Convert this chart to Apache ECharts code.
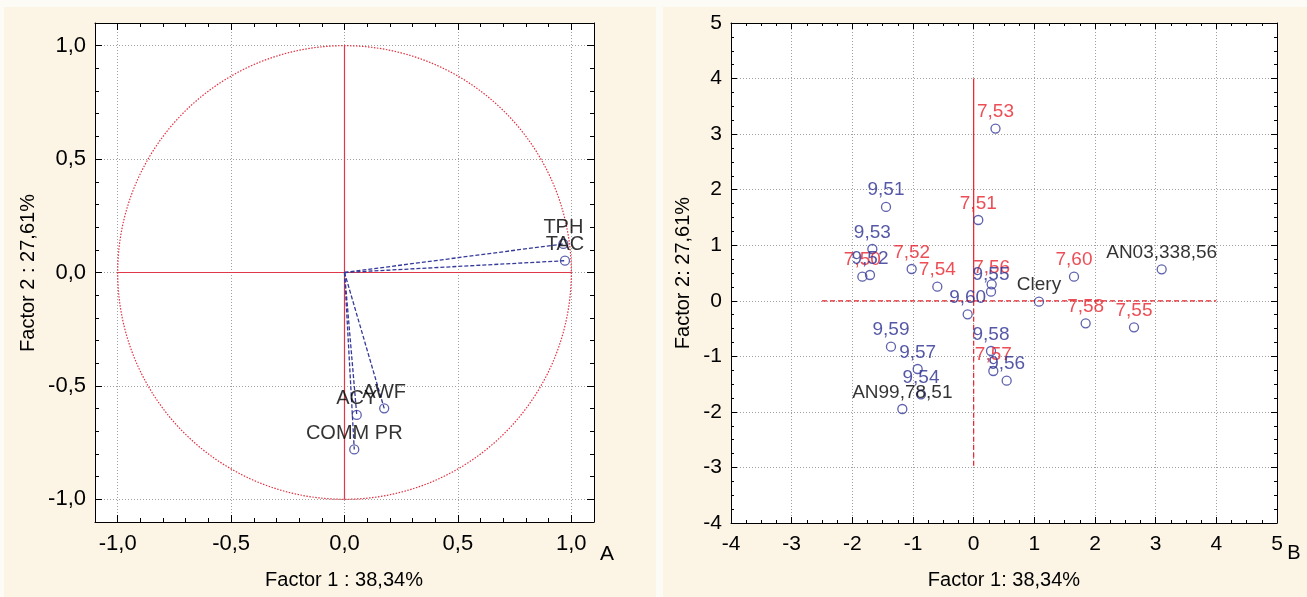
<!DOCTYPE html>
<html><head><meta charset="utf-8">
<script src="https://cdn.jsdelivr.net/npm/echarts@6/dist/echarts.min.js"></script>
<style>html,body{margin:0;padding:0;background:#fdfbf6}#c{width:1307px;height:597px}</style>
</head><body><div id="c"></div>
<script>
// ---- Panel A: loadings ----
const loadNames = ['TPH', 'TAC', 'AWF', 'ACY', 'COMM PR'];
const loadX = [0.965, 0.972, 0.175, 0.054, 0.043];
const loadY = [0.126, 0.052, -0.599, -0.628, -0.780];
const unitCircle = [[0, 0, 1]];
const leftRefH = [[-1, 0], [1, 0]];
const leftRefV = [[0, -1], [0, 1]];

// ---- Panel B: scores ----
const scoreNames = ['7,53','9,51','7,51','9,53','7,50','9,52','7,52','7,54','7,56','9,55','9,60','Clery','7,60','AN03,338,56','7,58','7,55','9,59','9,57','9,54','AN99,78,51','9,58','7,57','9,56'];
const scoreX = [0.36, -1.445, 0.076, -1.67, -1.835, -1.709, -1.022, -0.599, 0.297, 0.286, -0.099, 1.077, 1.654, 3.099, 1.846, 2.643, -1.363, -0.923, -0.868, -1.176, 0.286, 0.324, 0.544];
const scoreY = [3.10, 1.69, 1.454, 0.932, 0.434, 0.464, 0.572, 0.254, 0.297, 0.164, -0.243, -0.016, 0.434, 0.567, -0.405, -0.477, -0.826, -1.228, -1.683, -1.948, -0.904, -1.264, -1.438];
const scoreGroup = ['r','b','r','b','r','b','r','r','r','b','b','k','r','k','r','r','b','b','b','k','b','r','b'];
const rightRefH = [[-2.5, 0], [4, 0]];
const rightRefVUp = [[0, 0], [0, 4]];
const rightRefVDown = [[0, 0], [0, -3]];

const FONT = "'Liberation Sans', Arial, sans-serif";
const groupColor = {r: '#e8202a', b: '#2a2e90', k: '#000000'};
const markerColor = '#363a98';
const gridLine = {show: true, lineStyle: {color: '#a0a0a0', type: [1, 2], width: 1}};

function commaFmt(v) {
  const d = v * 2;
  if (Math.abs(d - Math.round(d)) > 1e-6 || Math.abs(v) > 1.0001) return '';
  let s = (Math.round(d) / 2).toFixed(1).replace('.', ',');
  if (s === '-0,0') s = '0,0';
  return s;
}

function axisA(type, pos, grid, withLabels, withSplit) {
  return {
    type: 'value', gridIndex: grid, position: pos, min: -1.1, max: 1.1,
    splitNumber: 4, minInterval: 0.5, maxInterval: 0.5,
    axisLine: {show: true, onZero: false, lineStyle: {color: '#000', width: 1}},
    axisTick: {show: true, inside: true, length: 7, lineStyle: {color: '#000'}},
    axisLabel: {show: withLabels, formatter: commaFmt, fontSize: 22, color: '#000', fontFamily: FONT,
      margin: type === 'x' ? 11 : 9},
    splitLine: withSplit ? gridLine : {show: false}
  };
}
function axisB(pos, grid) {
  return {
    type: 'value', gridIndex: grid, position: pos, min: -1.1, max: 1.1, interval: 0.1,
    axisLine: {show: false, onZero: false},
    axisTick: {show: true, inside: true, length: 4, lineStyle: {color: '#000'}},
    axisLabel: {show: false}, splitLine: {show: false}
  };
}
function axisR(type, pos, withLabels, withSplit) {
  return {
    type: 'value', gridIndex: 1, position: pos, min: -4, max: 5, interval: 1,
    axisLine: {show: true, onZero: false, lineStyle: {color: '#000', width: 1}},
    axisTick: {show: true, inside: true, length: 6, lineStyle: {color: '#000'}},
    minorTick: {show: true, splitNumber: 4, length: 3, lineStyle: {color: '#000'}},
    axisLabel: {show: withLabels, fontSize: 21, color: '#000', fontFamily: FONT,
      margin: type === 'x' ? 11 : 9},
    splitLine: withSplit ? gridLine : {show: false}
  };
}

const loadData = loadNames.map((n, i) => ({name: n, value: [loadX[i], loadY[i]]}));
const scoreData = scoreNames.map((n, i) => ({name: n, value: [scoreX[i], scoreY[i]],
  label: {color: groupColor[scoreGroup[i]]}}));

function refLine(data, xi, dashed, color) {
  return {type: 'line', xAxisIndex: xi, yAxisIndex: xi, data: data, symbol: 'none', silent: true,
    lineStyle: {color: color, width: 1.2, type: dashed ? [5, 3] : 'solid'}, z: 1, animation: false};
}

const option = {
  animation: false,
  backgroundColor: '#fdfbf6',
  grid: [
    {left: 95, top: 23, width: 499, height: 499},
    {left: 731, top: 23, width: 546, height: 500}
  ],
  xAxis: [
    axisA('x', 'bottom', 0, true, true),
    axisB('bottom', 0),
    axisA('x', 'top', 0, false, false),
    axisB('top', 0),
    axisR('x', 'bottom', true, true),
    axisR('x', 'top', false, false)
  ],
  yAxis: [
    axisA('y', 'left', 0, true, true),
    axisB('left', 0),
    axisA('y', 'right', 0, false, false),
    axisB('right', 0),
    axisR('y', 'left', true, true),
    axisR('y', 'right', false, false)
  ],
  graphic: [
    {type: 'rect', z: -10, silent: true, shape: {x: 4, y: 7, width: 652, height: 590}, style: {fill: '#fcf5e5'}},
    {type: 'rect', z: -10, silent: true, shape: {x: 663, y: 7, width: 644, height: 590}, style: {fill: '#fcf5e5'}},
    {type: 'rect', z: -9, silent: true, shape: {x: 95, y: 23, width: 499, height: 499}, style: {fill: '#ffffff'}},
    {type: 'rect', z: -9, silent: true, shape: {x: 731, y: 23, width: 546, height: 500}, style: {fill: '#ffffff'}},
    {type: 'text', x: 344, y: 580, silent: true, style: {text: 'Factor 1 : 38,34%', font: '20px ' + FONT, fill: '#000', align: 'center', verticalAlign: 'middle'}},
    {type: 'text', x: 1004, y: 580, silent: true, style: {text: 'Factor 1: 38,34%', font: '20px ' + FONT, fill: '#000', align: 'center', verticalAlign: 'middle'}},
    {type: 'text', x: 28, y: 273, rotation: Math.PI / 2, silent: true,
      style: {text: 'Factor 2 : 27,61%', font: '20px ' + FONT, fill: '#000', align: 'center', verticalAlign: 'middle'}},
    {type: 'text', x: 683, y: 273, rotation: Math.PI / 2, silent: true,
      style: {text: 'Factor 2: 27,61%', font: '20px ' + FONT, fill: '#000', align: 'center', verticalAlign: 'middle'}},
    {type: 'text', x: 607, y: 554, silent: true, style: {text: 'A', font: '21px ' + FONT, fill: '#000', align: 'center', verticalAlign: 'middle'}},
    {type: 'text', x: 1294, y: 553, silent: true, style: {text: 'B', font: '20px ' + FONT, fill: '#000', align: 'center', verticalAlign: 'middle'}}
  ],
  series: [
    {
      type: 'custom', xAxisIndex: 0, yAxisIndex: 0, data: unitCircle, silent: true, z: 1,
      renderItem: (p, api) => {
        const c = api.coord([api.value(0), api.value(1)]);
        const s = api.size([api.value(2), api.value(2)]);
        return {type: 'circle', shape: {cx: c[0], cy: c[1], r: s[0]},
          style: {fill: 'none', stroke: '#e03040', lineWidth: 1.2, lineDash: [1.5, 1.5]}};
      }
    },
    refLine(leftRefH, 0, false, '#e03848'),
    refLine(leftRefV, 0, false, '#e03848'),
    {
      type: 'custom', xAxisIndex: 0, yAxisIndex: 0, data: loadX.map((x, i) => [x, loadY[i]]), silent: true, z: 3,
      renderItem: (p, api) => {
        const o = api.coord([0, 0]);
        const e = api.coord([api.value(0), api.value(1)]);
        return {type: 'line', shape: {x1: o[0], y1: o[1], x2: e[0], y2: e[1]},
          style: {stroke: '#34399a', lineWidth: 1.3, lineDash: [4, 2]}};
      }
    },
    {
      type: 'scatter', xAxisIndex: 0, yAxisIndex: 0, data: loadData, symbol: 'circle', symbolSize: 9, z: 4,
      itemStyle: {color: 'rgba(0,0,0,0)', borderColor: markerColor, borderWidth: 1.3},
      label: {show: true, position: 'top', distance: 1, formatter: '{b}', fontSize: 20, color: '#000', fontFamily: FONT}
    },
    refLine(rightRefH, 4, true, '#e8202a'),
    refLine(rightRefVUp, 4, false, '#e8202a'),
    refLine(rightRefVDown, 4, true, '#e8202a'),
    {
      type: 'scatter', xAxisIndex: 4, yAxisIndex: 4, data: scoreData, symbol: 'circle', symbolSize: 9, z: 4,
      itemStyle: {color: 'rgba(0,0,0,0)', borderColor: markerColor, borderWidth: 1.3},
      label: {show: true, position: 'top', distance: 2, formatter: '{b}', fontSize: 19, fontFamily: FONT}
    }
  ]
};
const chart = echarts.init(document.getElementById('c'), null, {renderer: 'canvas'});
chart.setOption(option);
</script></body></html>
